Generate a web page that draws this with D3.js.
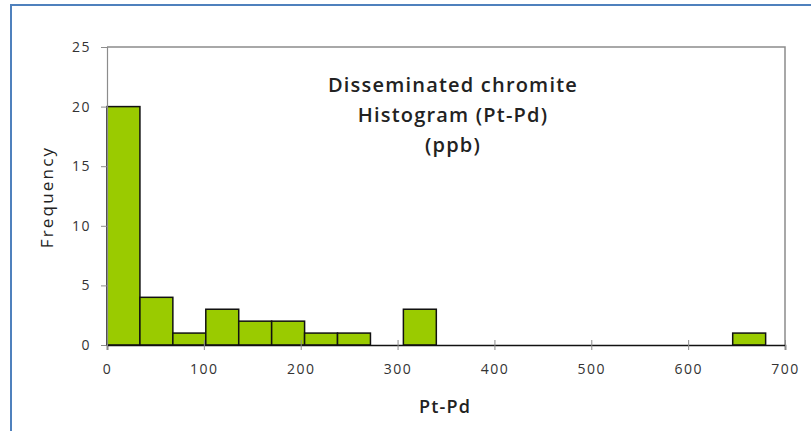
<!DOCTYPE html>
<html><head><meta charset="utf-8">
<script src="https://cdn.jsdelivr.net/npm/d3@7"></script>
<style>body{margin:0;background:#fff}svg{display:block}</style>
</head><body><svg id="c" width="811" height="431"></svg>
<script>
const binStarts = [0, 34, 68, 102, 136, 170, 204, 238, 272, 306, 646];
const binWidth = 34;
const counts = [20, 4, 1, 3, 2, 2, 1, 1, 0, 3, 1];
const xTicks = [0, 100, 200, 300, 400, 500, 600, 700];
const yTicks = [0, 5, 10, 15, 20, 25];
const titleLines = ["Disseminated chromite", "Histogram (Pt-Pd)", "(ppb)"];

const svg = d3.select("#c");
const font = "'Open Sans', sans-serif";
const L = 107, R = 785, T = 47, B = 345;
const x = d3.scaleLinear().domain([0, 700]).range([L, R]);
const y = d3.scaleLinear().domain([0, 25]).range([B, T]);

// outer border
svg.append("rect").attr("x", 11).attr("y", 5).attr("width", 820).attr("height", 440)
  .attr("fill", "none").attr("stroke", "#4f81bd").attr("stroke-width", 2);

// plot frame (top & right)
svg.append("path").attr("d", `M${L},${T}H${R}V${B}`).attr("fill", "none")
  .attr("stroke", "#8c8c8c").attr("stroke-width", 1.5);

// bars
svg.append("g").selectAll("rect").data(binStarts.map((s, i) => ({s, c: counts[i]})).filter(d => d.c > 0))
  .join("rect")
  .attr("x", d => x(d.s)).attr("width", d => x(d.s + binWidth) - x(d.s))
  .attr("y", d => y(d.c)).attr("height", d => y(0) - y(d.c))
  .attr("fill", "#9acb00").attr("stroke", "#111").attr("stroke-width", 1.5);

// y axis
const ya = svg.append("g").attr("transform", `translate(${L},0)`)
  .call(d3.axisLeft(y).tickValues(yTicks).tickSize(6).tickPadding(10));
ya.select(".domain").attr("stroke", "#8c8c8c").attr("stroke-width", 1.2);
ya.selectAll(".tick line").attr("stroke", "#8c8c8c");
ya.selectAll("text").attr("font-family", font).attr("font-size", 14).attr("letter-spacing", 1.5).attr("fill", "#333");

// x axis
const xa = svg.append("g").attr("transform", `translate(0,${B})`)
  .call(d3.axisBottom(x).tickValues(xTicks).tickSize(5).tickPadding(14));
xa.select(".domain").attr("stroke", "#111").attr("stroke-width", 1.5);
xa.selectAll(".tick line").attr("stroke", "#8c8c8c").attr("y1", -5);
xa.selectAll("text").attr("font-family", font).attr("font-size", 14).attr("letter-spacing", 1.5).attr("fill", "#333");

// axis titles
svg.append("text").attr("x", 445).attr("y", 413).attr("text-anchor", "middle")
  .attr("font-family", font).attr("font-weight", 600).attr("font-size", 18).attr("letter-spacing", 1.2)
  .attr("fill", "#222").text("Pt-Pd");
svg.append("text").attr("transform", "translate(53,197) rotate(-90)").attr("text-anchor", "middle")
  .attr("font-family", font).attr("font-size", 17).attr("letter-spacing", 2.2).attr("fill", "#222").text("Frequency");

// title
svg.append("g").selectAll("text").data(titleLines).join("text")
  .attr("x", 453).attr("y", (d, i) => 92 + i * 30).attr("text-anchor", "middle")
  .attr("font-family", font).attr("font-weight", 600).attr("font-size", 20).attr("letter-spacing", 1.2)
  .attr("fill", "#222").text(d => d);
</script></body></html>
